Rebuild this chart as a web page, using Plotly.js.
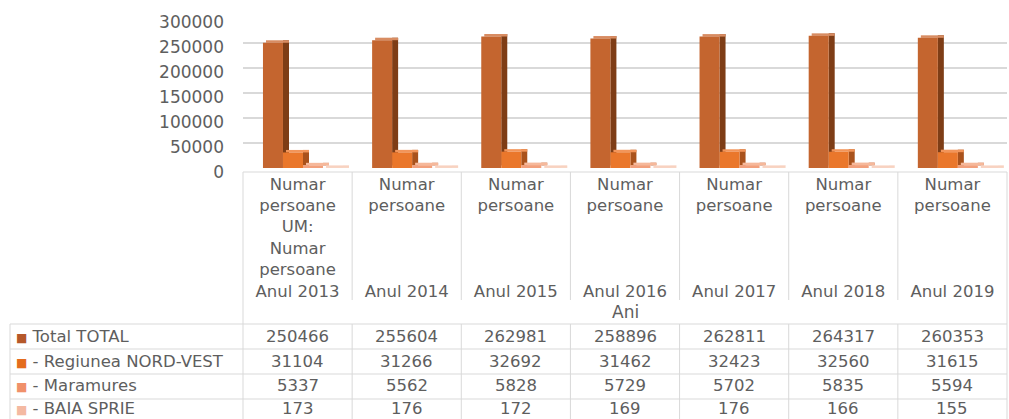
<!DOCTYPE html>
<html>
<head>
<meta charset="utf-8">
<script src="https://cdn.plot.ly/plotly-3.0.1.min.js"></script>
<style>html,body{margin:0;padding:0;background:#fff;}#chart{width:1009px;height:419px;}</style>
</head>
<body>
<div id="chart"></div>
<script>
// ---- data ----
const years = ['Anul 2013', 'Anul 2014', 'Anul 2015', 'Anul 2016', 'Anul 2017', 'Anul 2018', 'Anul 2019'];
const unitLabel = ['Numar', 'persoane'];
const umNote = ['UM:', 'Numar', 'persoane'];
const axisTitle = 'Ani';
const seriesNames = ['Total TOTAL', '- Regiunea NORD-VEST', '- Maramures', '- BAIA SPRIE'];
const total = [250466, 255604, 262981, 258896, 262811, 264317, 260353];
const nordVest = [31104, 31266, 32692, 31462, 32423, 32560, 31615];
const maramures = [5337, 5562, 5828, 5729, 5702, 5835, 5594];
const baiaSprie = [173, 176, 172, 169, 176, 166, 155];
const yTicks = [0, 50000, 100000, 150000, 200000, 250000, 300000];

// ---- style ----
const seriesValues = [total, nordVest, maramures, baiaSprie];
const frontCol = ['#C4652F', '#EA772B', '#F2A07C', '#F6C3AC'];
const sideCol = ['#7E3D16', '#A9521C', '#C97A57', '#D9A088'];
const topCol = ['#D88C62', '#F2955A', '#F6B89A', '#F8D2C0'];
const keyCol = ['#B5582A', '#E46C1E', '#F0906A', '#F4B9A2'];
const txt = '#5E5E5E';
const grid = '#D9D9D9';
const FONT = 'DejaVu Sans';

const W = 0.1833, D = 0.055, DY = 5000, START = -0.317;
const idx = years.map((_, i) => i);

const traces = [];
seriesValues.forEach((vals, k) => {
  const off = START + k * W;
  traces.push({type: 'bar', x: idx, y: vals, base: vals.map(() => DY), offset: off + W, width: D,
    marker: {color: sideCol[k], line: {width: 0}}, hoverinfo: 'skip', showlegend: false});
  traces.push({type: 'bar', x: idx, y: vals.map(() => DY), base: vals, offset: off + D * 0.5, width: W + D * 0.5,
    marker: {color: topCol[k], line: {width: 0}}, hoverinfo: 'skip', showlegend: false});
  traces.push({type: 'bar', x: idx, y: vals, offset: off, width: W, name: seriesNames[k],
    marker: {color: frontCol[k], line: {width: 0}}, showlegend: false});
});

// pixel helpers for layout decorations
const L = 243, R = 1007, T = 18, B = 168;
const PX = x => (x - L) / (1009 - 2 - L);
const PY = y => (B - y) / (B - T);

const tickText = years.map((y, i) => {
  const mid = i === 0 ? umNote : ['\u00a0', '\u00a0', '\u00a0'];
  return unitLabel.concat(mid).concat([y]).join('<br>');
});

const shapes = [];
const line = (x0, y0, x1, y1) => shapes.push({type: 'line', xref: 'paper', yref: 'paper',
  x0: PX(x0), y0: PY(y0), x1: PX(x1), y1: PY(y1), line: {color: grid, width: 1}, layer: 'below'});
const colW = (R - L) / years.length;
line(L, 172, R, 172);
line(L, 172, L, 419);
line(R, 172, R, 419);
for (let k = 1; k < years.length; k++) {
  const x = L + k * colW;
  line(x, 172, x, 300);
  line(x, 324, x, 419);
}
[324, 349, 374, 399].forEach(y => line(10, y, R, y));
line(10, 324, 10, 419);

const rowY = [336, 361, 385.5, 409];
const annotations = [];
annotations.push({xref: 'paper', yref: 'paper', x: PX((L + R) / 2), y: PY(312), text: axisTitle,
  showarrow: false, font: {family: FONT, size: 17, color: txt}, xanchor: 'center', yanchor: 'middle'});
seriesNames.forEach((n, k) => {
  annotations.push({xref: 'paper', yref: 'paper', x: PX(15), y: PY(rowY[k]), xanchor: 'left', yanchor: 'middle',
    text: '<span style="color:' + keyCol[k] + ';font-size:12px">\u25A0</span> ' + n,
    showarrow: false, borderpad: 0, font: {family: FONT, size: 16.5, color: txt}});
  seriesValues[k].forEach((v, j) => {
    annotations.push({xref: 'x', yref: 'paper', x: j, y: PY(rowY[k]), xanchor: 'center', yanchor: 'middle',
      text: String(v), showarrow: false, borderpad: 0, font: {family: FONT, size: 16.5, color: txt}});
  });
});

const layout = {
  width: 1009, height: 419,
  margin: {l: L, r: 2, t: T, b: 419 - B, pad: 0},
  paper_bgcolor: '#fff', plot_bgcolor: '#fff',
  barmode: 'overlay',
  showlegend: false,
  font: {family: FONT, color: txt, size: 17},
  xaxis: {
    range: [-0.5, years.length - 0.5], tickvals: idx, ticktext: tickText,
    showgrid: false, zeroline: false, showline: false, ticks: '',
    tickfont: {family: FONT, size: 16.5, color: txt}, ticklabelstandoff: 4, fixedrange: true
  },
  yaxis: {
    range: [0, 300000], tickvals: yTicks, ticktext: yTicks.map(String),
    showgrid: true, gridcolor: grid, gridwidth: 1.3, zeroline: false, showline: false, ticks: '',
    tickfont: {family: FONT, size: 17, color: txt}, ticklabelstandoff: 18, ticklabelshift: 4, fixedrange: true
  },
  shapes: shapes,
  annotations: annotations
};

Plotly.newPlot('chart', traces, layout, {displayModeBar: false, staticPlot: true});
</script>
</body>
</html>
